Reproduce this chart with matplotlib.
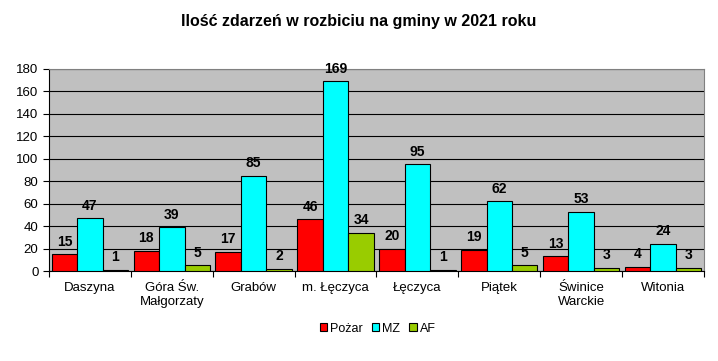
import matplotlib
matplotlib.use("Agg")
import matplotlib.pyplot as plt
import numpy as np

plt.rcParams['font.family'] = ['Liberation Sans', 'DejaVu Sans']

categories = ["Daszyna", "Góra Św.\nMałgorzaty", "Grabów", "m. Łęczyca", "Łęczyca", "Piątek", "Świnice\nWarckie", "Witonia"]
pozar = [15, 18, 17, 46, 20, 19, 13, 4]
mz = [47, 39, 85, 169, 95, 62, 53, 24]
af = [1, 5, 2, 34, 1, 5, 3, 3]
series = [("Pożar", pozar, "#FF0000"), ("MZ", mz, "#00FFFF"), ("AF", af, "#99CC00")]

fig = plt.figure(figsize=(7.18, 3.61), dpi=100)
ax = fig.add_axes([0.0682, 0.2493, 0.9123, 0.5596])
ax.set_facecolor("#C0C0C0")

x = np.arange(len(categories))
w = 0.311
for i, (name, vals, col) in enumerate(series):
    bars = ax.bar(x + (i - 1) * w, vals, w, color=col, edgecolor="black", linewidth=0.8, label=name, zorder=3)
    for b, v in zip(bars, vals):
        ax.text(b.get_x() + b.get_width() / 2, v + 5, str(v), ha="center", va="bottom",
                fontsize=10, fontweight="bold", zorder=4)

ax.set_xlim(-0.5, len(categories) - 0.5)
ax.set_ylim(0, 180)
ax.set_yticks(np.arange(0, 181, 20))
ax.yaxis.grid(True, color="black", linewidth=0.8, zorder=1)
ax.set_axisbelow(True)
ax.set_xticks(x)
ax.set_xticklabels(categories, fontsize=9.5)
ax.set_xticks(np.arange(-0.5, len(categories), 1), minor=True)
ax.tick_params(axis="x", which="major", length=0, pad=8)
ax.tick_params(axis="x", which="minor", length=4, direction="out", width=0.8)
ax.tick_params(axis="y", labelsize=9.5, length=4, width=0.8)
for s in ["top", "right"]:
    ax.spines[s].set_color("#808080")
for s in ["left", "bottom"]:
    ax.spines[s].set_color("black")

fig.text(0.5, 0.94, "Ilość zdarzeń w rozbiciu na gminy w 2021 roku", ha="center", va="center",
         fontsize=11.5, fontweight="bold")

leg = fig.legend(loc="center", bbox_to_anchor=(0.526, 0.09), ncol=3, frameon=False, fontsize=9,
                 handlelength=0.6, handleheight=0.6, handletextpad=0.25, columnspacing=0.7)

fig.savefig("out.png", dpi=100)
